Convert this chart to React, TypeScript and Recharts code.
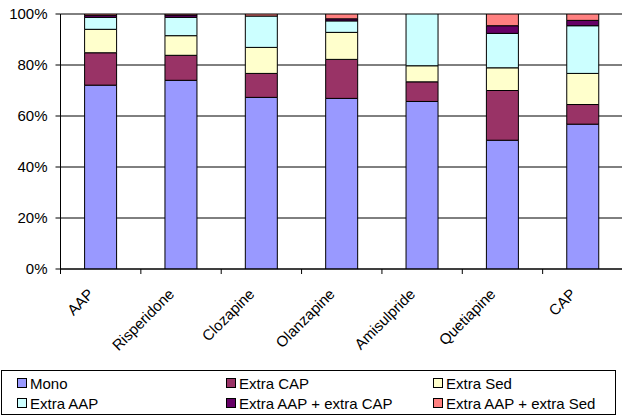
import React from 'react';
import { BarChart, Bar, XAxis, YAxis, CartesianGrid, Legend } from 'recharts';

// Share of prescriptions by co-medication type, per antipsychotic group (%)
const categories = ['AAP', 'Risperidone', 'Clozapine', 'Olanzapine', 'Amisulpride', 'Quetiapine', 'CAP'];
const mono = [72.1, 74.0, 67.3, 66.9, 65.7, 50.5, 56.8];
const extraCap = [12.7, 9.8, 9.4, 15.3, 7.7, 19.5, 7.7];
const extraSed = [9.2, 7.7, 10.2, 10.6, 6.3, 8.9, 12.2];
const extraAap = [4.7, 7.2, 12.3, 4.5, 20.3, 13.5, 18.7];
const extraAapCap = [0.8, 0.9, 0.0, 0.8, 0.0, 3.0, 2.1];
const extraAapSed = [0.5, 0.4, 0.8, 1.9, 0.0, 4.6, 2.5];
const yTicks = [0, 20, 40, 60, 80, 100];

const seriesNames = ['Mono', 'Extra CAP', 'Extra Sed', 'Extra AAP', 'Extra AAP + extra CAP', 'Extra AAP + extra Sed'];
const seriesValues = [mono, extraCap, extraSed, extraAap, extraAapCap, extraAapSed];
const seriesColors = ['#9999FF', '#993366', '#FFFFCC', '#CCFFFF', '#660066', '#FF8080'];

const data = categories.map((name, i) => {
  const row: Record<string, string | number> = { name };
  seriesNames.forEach((s, k) => {
    row[s] = seriesValues[k][i];
  });
  return row;
});

const FONT = '"Liberation Sans", Arial, sans-serif';

// Category label rotated 45°, plus tick marks on the band boundaries
function CategoryTick(props: any) {
  const { x, y, payload, index, width, visibleTicksCount } = props;
  const band = width && visibleTicksCount ? width / visibleTicksCount : 0;
  const tx = x - 6;
  const ty = y + 26;
  return (
    <g>
      {band > 0 && <line x1={x - band / 2} x2={x - band / 2} y1={y} y2={y + 5} stroke="#000" />}
      {band > 0 && index === visibleTicksCount - 1 && (
        <line x1={x + band / 2} x2={x + band / 2} y1={y} y2={y + 5} stroke="#000" />
      )}
      <text
        x={tx}
        y={ty}
        transform={`rotate(-45, ${tx}, ${ty})`}
        textAnchor="end"
        fontFamily={FONT}
        fontSize={15}
        fill="#000"
      >
        {payload.value}
      </text>
    </g>
  );
}

const colLeft = [15, 224, 431];

function LegendBox() {
  return (
    <div
      style={{
        position: 'relative',
        width: 615,
        height: 45,
        border: '1px solid #000',
        boxSizing: 'border-box',
        background: '#fff',
        fontFamily: FONT,
        fontSize: 15,
        color: '#000',
      }}
    >
      {seriesNames.map((s, i) => (
        <div
          key={s}
          style={{
            position: 'absolute',
            left: colLeft[i % 3],
            top: 3 + Math.floor(i / 3) * 20,
            height: 18,
            display: 'flex',
            alignItems: 'center',
            whiteSpace: 'nowrap',
          }}
        >
          <span
            style={{
              display: 'inline-block',
              width: 8,
              height: 8,
              border: '1px solid #000',
              background: seriesColors[i],
              marginRight: 3,
            }}
          />
          <span>{s}</span>
        </div>
      ))}
    </div>
  );
}

export default function App() {
  return (
    <div style={{ position: 'absolute', left: 0, top: 0, width: 622, height: 419, overflow: 'hidden', background: '#fff' }}>
      <BarChart
        width={630}
        height={419}
        data={data}
        margin={{ top: 14, right: 7, bottom: 70, left: 0.5 }}
        barCategoryGap="30%"
      >
        <CartesianGrid vertical={false} stroke="#000" />
        <XAxis
          dataKey="name"
          height={80}
          tickSize={0}
          tickMargin={0}
          tickLine={false}
          axisLine={{ stroke: '#000' }}
          interval={0}
          tick={<CategoryTick />}
        />
        <YAxis
          width={60}
          domain={[0, 100]}
          ticks={yTicks}
          tickFormatter={(v: number) => `${v}%`}
          tickSize={5}
          tickMargin={8}
          axisLine={{ stroke: '#000' }}
          tickLine={{ stroke: '#000' }}
          tick={{ fill: '#000', fontSize: 15, fontFamily: FONT }}
          allowDataOverflow
        />
        <Legend
          layout="horizontal"
          verticalAlign="middle"
          align="center"
          wrapperStyle={{ top: 370, left: 1, width: 615, height: 45 }}
          content={() => <LegendBox />}
        />
        {seriesNames.map((s, i) => (
          <Bar
            key={s}
            dataKey={s}
            stackId="a"
            fill={seriesColors[i]}
            stroke="#000"
            strokeWidth={1}
            isAnimationActive={false}
          />
        ))}
      </BarChart>
    </div>
  );
}
